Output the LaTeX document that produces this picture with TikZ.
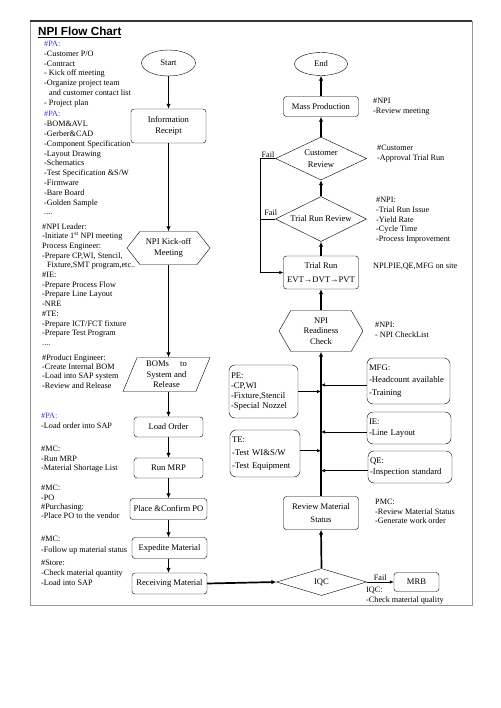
\documentclass[tikz,border=0pt]{standalone}
\usepackage{fontspec}
\setmainfont{Liberation Serif}
\newfontfamily\titlefont{Liberation Sans}
\usetikzlibrary{shapes.geometric,shapes.symbols,arrows.meta}
\definecolor{pablue}{RGB}{60,60,210}
\definecolor{framegray}{RGB}{150,150,150}
\newcommand\nodefont{\fontsize{8.6}{10.4}\selectfont}
\newcommand\notefont{\fontsize{8.2}{9.7}\selectfont}
\newcommand\sidefont{\fontsize{8.7}{10.2}\selectfont}
\tikzset{
  proc/.style={draw, rounded corners=3pt, align=center, inner sep=1pt, font=\nodefont},
  term/.style={draw, ellipse, inner sep=0pt, font=\nodefont},
  dec/.style={draw, diamond, aspect=2, inner sep=0pt, align=center, font=\nodefont},
  hexa/.style={draw, signal, signal to=east and west, inner sep=0pt, align=center, font=\nodefont},
  para/.style={draw, trapezium, trapezium left angle=62, trapezium right angle=118,
    trapezium stretches body, inner sep=0pt, align=center, font=\nodefont},
  sidebox/.style={draw, rounded corners=6pt, align=left, inner sep=2pt, font=\sidefont},
  note/.style={anchor=north west, inner sep=0pt, align=left, font=\notefont},
  flow/.style={line width=1.7pt, -{Latex[length=5pt,width=4.5pt]}},
  feed/.style={line width=0.6pt, -{Latex[length=4pt,width=3.5pt]}},
}
\begin{document}
\begin{tikzpicture}[x=1pt,y=-1pt]
  \useasboundingbox (0,0) rectangle (500,708);
  \draw[framegray, line width=0.8pt] (30,21) rectangle (472,605);
  \draw[black!80, line width=1.2pt] (30,21) -- (472,21);
  \node[anchor=base west, inner sep=0pt, font={\titlefont\bfseries\fontsize{11.7}{14}\selectfont}] (title) at (38,35.5) {\underline{NPI Flow Chart}};

  % left column
  \node[term, minimum width=54pt, minimum height=26pt] (start) at (168.5,63) {Start};
  \node[proc, minimum width=75pt, minimum height=34pt] (info) at (168.5,126) {Information\\Receipt};
  \node[hexa, signal pointer angle=104, minimum width=83pt, minimum height=33pt] (kick) at (168.5,248) {NPI Kick-off\\[1pt]Meeting};
  \node[para, minimum width=87pt, minimum height=34pt] (boms) at (166.5,374.5) {BOMs\hspace{1.3em}to\\System and\\Release};
  \node[proc, minimum width=69pt, minimum height=20pt] (load) at (168.5,427) {Load Order};
  \node[proc, minimum width=69pt, minimum height=20pt] (mrp) at (168.5,468) {Run MRP};
  \node[proc, minimum width=77pt, minimum height=21pt] (place) at (168.5,509) {Place \&Confirm PO};
  \node[proc, minimum width=75pt, minimum height=21pt] (exped) at (169.5,548) {Expedite Material};
  \node[proc, minimum width=75pt, minimum height=21pt] (recv) at (169.5,583.5) {Receiving Material};

  % right column
  \node[term, minimum width=53pt, minimum height=23pt] (end) at (321,64) {End};
  \node[proc, minimum width=75pt, minimum height=20pt] (mass) at (321,106.5) {Mass Production};
  \node[dec, minimum width=91pt, minimum height=43pt] (cust) at (321,158.5) {Customer\\[2pt]Review};
  \node[dec, minimum width=91pt, minimum height=45pt] (trr) at (321,219) {Trial Run Review};
  \node[proc, minimum width=75pt, minimum height=33pt] (trial) at (321,272.5) {Trial Run\\[3pt]EVT→DVT→PVT};
  \node[hexa, signal pointer angle=120, minimum width=84pt, minimum height=41pt] (ready) at (321,331) {NPI\\Readiness\\Check};
  \node[proc, minimum width=75pt, minimum height=33pt] (rms) at (321,513) {Review Material\\[2.5pt]Status};
  \node[dec, minimum width=90pt, minimum height=27pt] (iqc) at (321.5,582) {IQC};
  \node[proc, minimum width=45pt, minimum height=19pt] (mrb) at (416.5,582) {MRB};

  \node[sidebox, text width=65pt, minimum height=53pt] (pe) at (263.5,391.5) {PE:\\-CP,WI\\-Fixture,Stencil\\-Special Nozzel};
  \node[sidebox, text width=66pt, minimum height=47pt] (te) at (265,453.5) {TE:\\[2.5pt]-Test WI\&S/W\\[2.5pt]-Test Equipment};
  \node[sidebox, text width=79pt, minimum height=46pt] (mfg) at (408.5,381) {MFG:\\[2.5pt]-Headcount available\\[2.5pt]-Training};
  \node[sidebox, text width=80pt, minimum height=32pt] (ie) at (409,428) {IE:\\-Line Layout};
  \node[sidebox, text width=80pt, minimum height=32pt] (qe) at (410,467) {QE:\\-Inspection standard};

  % notes
  \node[note] (noteA) at (44,41.2) {\textcolor{pablue}{\#PA:}\\-Customer P/O\\-Contract\\- Kick off meeting\\-Organize project team\\\hspace*{0.6em}and customer contact list\\- Project plan};
  \node[note, font={\fontsize{8.2}{9.8}\selectfont}] (noteB) at (44,111.2) {\textcolor{pablue}{\#PA:}\\-BOM\&AVL\\-Gerber\&CAD\\-Component Specification\\-Layout Drawing\\-Schematics\\-Test Specification \&S/W\\-Firmware\\-Bare Board\\-Golden Sample\\....};
  \node[note] (noteC) at (42,223.2) {\#NPI Leader:\\-Initiate 1\textsuperscript{st} NPI meeting\\Process Engineer:\\-Prepare CP,WI, Stencil,\\\hspace*{0.6em}Fixture,SMT program,etc..\\\#IE:\\-Prepare Process Flow\\-Prepare Line Layout\\-NRE\\\#TE:\\-Prepare ICT/FCT fixture\\-Prepare Test Program\\....};
  \node[note, font={\fontsize{8.2}{9.4}\selectfont}] (noteD) at (42,354.2) {\#Product Engineer:\\-Create Internal BOM\\-Load into SAP system\\-Review and Release};
  \node[note] (noteE) at (41,413.2) {\textcolor{pablue}{\#PA:}\\-Load order into SAP};
  \node[note, font={\fontsize{8.2}{9.5}\selectfont}] (noteF) at (41,446.2) {\#MC:\\-Run MRP\\-Material Shortage List};
  \node[note, font={\fontsize{8.2}{9.3}\selectfont}] (noteG) at (41,485.2) {\#MC:\\-PO\\\#Purchasing:\\-Place PO to the vendor};
  \node[note, font={\fontsize{8.2}{11}\selectfont}] (noteH) at (41,536.2) {\#MC:\\-Follow up material status};
  \node[note, font={\fontsize{8.2}{10}\selectfont}] (noteI) at (41,560.2) {\#Store:\\-Check material quantity\\-Load into SAP};

  \node[note] (noteR1) at (373,98.2) {\#NPI\\-Review meeting};
  \node[note] (noteR2) at (377,145.2) {\#Customer\\-Approval Trial Run};
  \node[note] (noteR3) at (376,197.2) {\#NPI:\\-Trial Run Issue\\-Yield Rate\\-Cycle Time\\-Process Improvement};
  \node[note] (noteR4) at (373,263.2) {NPI.PIE,QE,MFG on site};
  \node[note] (noteR5) at (375,322.2) {\#NPI:\\- NPI CheckList};
  \node[note] (noteR6) at (375,498.9) {PMC:\\-Review Material Status\\-Generate work order};
  \node[note] (noteR7) at (366,587.2) {IQC:\\-Check material quality};

  % connectors, left
  \draw[flow] (start.south) -- (info.north);
  \draw[flow] (info.south) -- (kick.north);
  \draw[flow] (kick.south) -- (kick.south |- boms.north);
  \draw[flow] (load.north |- boms.south) -- (load.north);
  \draw[flow] (load.south) -- (mrp.north);
  \draw[flow] (mrp.south) -- (mrp.south |- place.north);
  \draw[flow] (mrp.south |- place.south) -- (mrp.south |- exped.north);
  \draw[flow] (mrp.south |- exped.south) -- (mrp.south |- recv.north);
  \draw[flow] (recv.east) -- (iqc.west);

  % connectors, right
  \draw[flow] (iqc.north) -- (rms.south);
  \draw[flow] (rms.north) -- (ready.south);
  \draw[flow] (ready.north) -- (trial.south);
  \draw[flow] (trial.north) -- (trr.south);
  \draw[flow] (trr.north) -- (cust.south);
  \draw[flow] (cust.north) -- (mass.south);
  \draw[flow] (mass.north) -- (end.south);
  \draw[feed] (iqc.east) -- node[above, font=\notefont, inner sep=1.5pt] {Fail} (mrb.west);

  \coordinate (failx) at ([xshift=-15pt]cust.west);
  \draw[feed] (cust.west) -- (failx) node[above right, font=\notefont, inner sep=1pt] {Fail} |- (trial.west);
  \draw[line width=0.6pt] (trr.west) -- node[above, pos=0.3, font=\notefont, inner sep=3pt] {Fail} (trr.west -| failx);

  \draw[feed] (pe.east) -- (pe.east -| rms.north);
  \draw[feed] ([yshift=2.8pt]te.east) -- ([yshift=2.8pt]te.east -| rms.north);
  \draw[feed] ([yshift=-4pt]mfg.west) -- ([yshift=-4pt]mfg.west -| rms.north);
  \draw[feed] ([yshift=-4pt]ie.west) -- ([yshift=-4pt]ie.west -| rms.north);
  \draw[feed] ([yshift=-3.7pt]qe.west) -- ([yshift=-3.7pt]qe.west -| rms.north);
\end{tikzpicture}
\end{document}
